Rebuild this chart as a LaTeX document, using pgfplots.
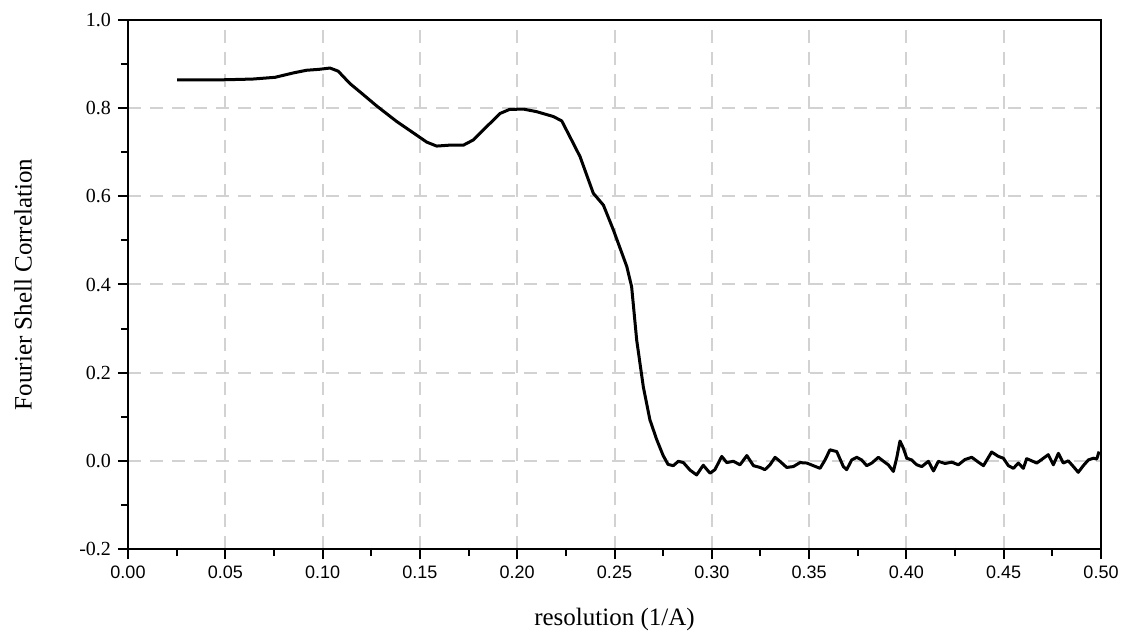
\documentclass[border=0pt]{standalone}
\usepackage{fontspec}
\setmainfont{Liberation Serif}
\newfontfamily\arialfont{Liberation Sans}
\usepackage{pgfplots}
\pgfplotsset{compat=1.18}

\begin{document}
\begin{tikzpicture}
\begin{axis}[
    name=ax,
    scale only axis,
    width=486.5pt, height=264.5pt,
    xmin=0, xmax=0.5, ymin=-0.2, ymax=1.0,
    xtick={0,0.05,...,0.5},
    ytick={-0.2,0,...,1.0},
    minor x tick num=1,
    minor y tick num=1,
    tick align=outside,
    xtick pos=bottom, ytick pos=left,
    major tick length=5pt,
    minor tick length=3.5pt,
    every tick/.style={black, line width=1pt},
    axis line style={black, line width=1pt},
    grid=major,
    major grid style={gray!35, line width=1pt, dash pattern=on 6.5pt off 4.5pt},
    /pgf/number format/assume math mode=true,
    xticklabel style={font=\arialfont\fontsize{9}{10}\selectfont,
        /pgf/number format/.cd, fixed, fixed zerofill, precision=2},
    yticklabel style={font=\fontsize{10}{12}\selectfont,
        /pgf/number format/.cd, fixed, fixed zerofill, precision=1},
    xlabel={resolution (1/A)},
    ylabel={Fourier Shell Correlation},
    label style={font=\fontsize{12.5}{14}\selectfont},
    xlabel style={at={([yshift=-35pt]axis description cs:0.5,0)}, anchor=center},
    ylabel style={at={([xshift=-52.5pt]axis description cs:0,0.5)}, anchor=center},
]
% FSC curve
\addplot[black, line width=1.5pt, line join=round] coordinates {
(0.0253,0.864) (0.035,0.864) (0.045,0.864) (0.055,0.865) (0.064,0.866)
(0.0756,0.870) (0.085,0.880) (0.0918,0.886) (0.098,0.888) (0.1038,0.891)
(0.108,0.884) (0.114,0.856) (0.120,0.834) (0.1278,0.805) (0.138,0.770)
(0.1466,0.744) (0.1535,0.723) (0.1586,0.714) (0.165,0.716) (0.1723,0.716)
(0.1775,0.728) (0.1843,0.758) (0.1912,0.788) (0.196,0.797) (0.2031,0.798)
(0.210,0.792) (0.2186,0.781) (0.2229,0.771) (0.2271,0.735) (0.2323,0.690)
(0.2391,0.607) (0.2443,0.580) (0.2494,0.524) (0.2563,0.441) (0.2588,0.395)
(0.2614,0.274) (0.2648,0.168) (0.2682,0.093) (0.2717,0.048) (0.275,0.012)
(0.2775,-0.008) (0.2802,-0.011) (0.2828,-0.001) (0.2854,-0.004) (0.2888,-0.021)
(0.2922,-0.032) (0.2956,-0.010) (0.2991,-0.028) (0.3016,-0.020) (0.3051,0.010)
(0.3077,-0.004) (0.3111,-0.001) (0.3145,-0.009) (0.3180,0.012) (0.3214,-0.011)
(0.3248,-0.015) (0.3273,-0.020) (0.3299,-0.009) (0.3325,0.008) (0.3350,-0.001)
(0.3385,-0.015) (0.3419,-0.013) (0.3453,-0.004) (0.3488,-0.005) (0.3522,-0.011)
(0.3556,-0.017) (0.3582,0.002) (0.3607,0.025) (0.3642,0.021) (0.3676,-0.013)
(0.3693,-0.020) (0.3719,0.002) (0.3745,0.008) (0.3770,0.002) (0.3796,-0.011)
(0.3822,-0.005) (0.3856,0.008) (0.3882,-0.001) (0.3907,-0.009) (0.3933,-0.024)
(0.3950,0.006) (0.3967,0.045) (0.3984,0.029) (0.4002,0.006) (0.4027,0.002)
(0.4053,-0.009) (0.4079,-0.013) (0.4113,-0.001) (0.4139,-0.023) (0.4164,-0.001)
(0.4198,-0.006) (0.4233,-0.003) (0.4267,-0.009) (0.4301,0.003) (0.4336,0.008)
(0.4370,-0.003) (0.4396,-0.011) (0.4438,0.020) (0.4473,0.010) (0.4498,0.006)
(0.4524,-0.011) (0.4550,-0.017) (0.4575,-0.005) (0.4601,-0.017) (0.4618,0.005)
(0.4644,0.000) (0.4670,-0.005) (0.4695,0.003) (0.4729,0.014) (0.4755,-0.009)
(0.4781,0.017) (0.4806,-0.005) (0.4832,0.000) (0.4858,-0.013) (0.4883,-0.026)
(0.4909,-0.011) (0.4935,0.002) (0.4961,0.006) (0.4978,0.004) (0.4990,0.021)
};
\end{axis}
% page size of the reference around the axis
\path ([xshift=-64pt,yshift=-43pt]ax.south west) ([xshift=15.5pt,yshift=10pt]ax.north east);
\end{tikzpicture}
\end{document}
